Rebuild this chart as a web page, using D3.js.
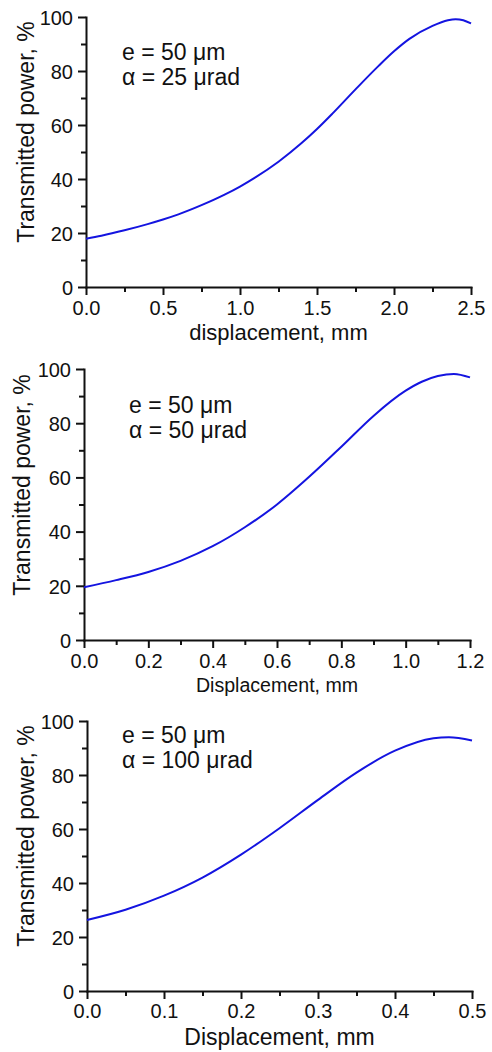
<!DOCTYPE html>
<html>
<head>
<meta charset="utf-8">
<script src="https://cdn.jsdelivr.net/npm/d3@7"></script>
<style>
  html, body { margin: 0; padding: 0; background: #ffffff; }
  svg { display: block; }
  text { font-family: "Liberation Sans", Arial, sans-serif; fill: #111; }
</style>
</head>
<body>
<svg id="chart" width="492" height="1052"></svg>
<script>
// ---------- data ----------
const xValues1 = [0, 0.1, 0.25, 0.4, 0.5, 0.6, 0.75, 0.9, 1.0, 1.1, 1.25, 1.4, 1.5, 1.6, 1.75, 1.9, 2.0, 2.1, 2.25, 2.35, 2.4, 2.45, 2.5];
const yValues1 = [17.9, 19.0, 21.0, 23.3, 25.0, 26.9, 30.3, 34.2, 37.2, 40.6, 46.4, 53.3, 58.5, 64.2, 73.2, 81.9, 87.3, 91.9, 96.7, 98.8, 99.2, 98.8, 97.6];

const xValues2 = [0, 0.1, 0.2, 0.3, 0.4, 0.5, 0.6, 0.7, 0.8, 0.9, 1.0, 1.05, 1.1, 1.15, 1.2];
const yValues2 = [19.5, 22.1, 25.1, 29.2, 34.6, 41.6, 50.0, 60.2, 71.3, 82.7, 92.0, 95.3, 97.4, 98.2, 96.9];

const xValues3 = [0, 0.05, 0.1, 0.15, 0.2, 0.25, 0.3, 0.35, 0.4, 0.45, 0.47, 0.5];
const yValues3 = [26.3, 30.1, 35.3, 42.0, 50.5, 60.3, 70.8, 80.9, 89.0, 93.6, 94.0, 92.8];

const yTicks = [0, 20, 40, 60, 80, 100];
const yMinorTicks = [10, 30, 50, 70, 90];
const xTicks1 = [0, 0.5, 1.0, 1.5, 2.0, 2.5];
const xMinor1 = [0.25, 0.75, 1.25, 1.75, 2.25];
const xTicks2 = [0, 0.2, 0.4, 0.6, 0.8, 1.0, 1.2];
const xMinor2 = [0.1, 0.3, 0.5, 0.7, 0.9, 1.1];
const xTicks3 = [0, 0.1, 0.2, 0.3, 0.4, 0.5];
const xMinor3 = [0.05, 0.15, 0.25, 0.35, 0.45];

const yTitle = "Transmitted power, %";
const xTitles = ["displacement, mm", "Displacement, mm", "Displacement, mm"];
const noteLine1 = ["e = 50 \u03bcm", "e = 50 \u03bcm", "e = 50 \u03bcm"];
const noteLine2 = ["\u03b1 = 25 \u03bcrad", "\u03b1 = 50 \u03bcrad", "\u03b1 = 100 \u03bcrad"];
const xMax = [2.5, 1.2, 0.5];

// ---------- layout ----------
const layout = [
  { left: 86, right: 471, top: 17, bottom: 287, xTitleY: 340, xTitleSize: 22, yTitleX: 34, yTitleCY: 132, noteX: 122, noteY1: 60, noteY2: 85, tickLabelDy: 28 },
  { left: 84, right: 470, top: 369, bottom: 640, xTitleY: 692, xTitleSize: 19.6, yTitleX: 30, yTitleCY: 485, noteX: 129, noteY1: 413, noteY2: 438, tickLabelDy: 28 },
  { left: 87, right: 472, top: 721, bottom: 991, xTitleY: 1045, xTitleSize: 23, yTitleX: 34, yTitleCY: 836, noteX: 122, noteY1: 743, noteY2: 768, tickLabelDy: 27 }
];

const series = [
  { xs: xValues1, ys: yValues1, xt: xTicks1, xm: xMinor1 },
  { xs: xValues2, ys: yValues2, xt: xTicks2, xm: xMinor2 },
  { xs: xValues3, ys: yValues3, xt: xTicks3, xm: xMinor3 }
];

const svg = d3.select("#chart");
svg.append("rect").attr("width", 492).attr("height", 1052).attr("fill", "#ffffff");

series.forEach((s, i) => {
  const L = layout[i];
  const x = d3.scaleLinear().domain([0, xMax[i]]).range([L.left, L.right]);
  const y = d3.scaleLinear().domain([0, 100]).range([L.bottom, L.top]);
  const g = svg.append("g");

  // minor ticks
  g.append("g").attr("transform", `translate(0,${L.bottom})`)
    .call(d3.axisBottom(x).tickValues(s.xm).tickSize(5).tickSizeOuter(0).tickFormat(""))
    .call(a => a.select(".domain").remove())
    .call(a => a.selectAll("line").attr("stroke", "#111").attr("stroke-width", 2));
  g.append("g").attr("transform", `translate(${L.left},0)`)
    .call(d3.axisLeft(y).tickValues(yMinorTicks).tickSize(5).tickSizeOuter(0).tickFormat(""))
    .call(a => a.select(".domain").remove())
    .call(a => a.selectAll("line").attr("stroke", "#111").attr("stroke-width", 2));

  // major x axis
  const xa = g.append("g").attr("transform", `translate(0,${L.bottom})`)
    .call(d3.axisBottom(x).tickValues(s.xt).tickSize(8).tickSizeOuter(0).tickFormat(d3.format(".1f")));
  xa.select(".domain").attr("stroke", "#111").attr("stroke-width", 2).attr("stroke-linecap", "square");
  xa.selectAll("line").attr("stroke", "#111").attr("stroke-width", 2);
  xa.selectAll("text").attr("y", L.tickLabelDy).attr("dy", 0)
    .style("font-size", "20px").style("font-family", '"Liberation Sans", Arial, sans-serif').attr("fill", "#111");

  // major y axis
  const ya = g.append("g").attr("transform", `translate(${L.left},0)`)
    .call(d3.axisLeft(y).tickValues(yTicks).tickSize(8).tickSizeOuter(0).tickPadding(5).tickFormat(d3.format("d")));
  ya.select(".domain").attr("stroke", "#111").attr("stroke-width", 2).attr("stroke-linecap", "square");
  ya.selectAll("line").attr("stroke", "#111").attr("stroke-width", 2);
  ya.selectAll("text").attr("dy", "0.36em")
    .style("font-size", "20px").style("font-family", '"Liberation Sans", Arial, sans-serif').attr("fill", "#111");

  // curve
  const pts = s.xs.map((v, k) => [v, s.ys[k]]);
  g.append("path").datum(pts)
    .attr("fill", "none").attr("stroke", "#1414e0").attr("stroke-width", 2)
    .attr("d", d3.line().x(d => x(d[0])).y(d => y(d[1])).curve(d3.curveMonotoneX));

  // titles
  g.append("text").attr("x", (L.left + L.right) / 2).attr("y", L.xTitleY)
    .attr("text-anchor", "middle").style("font-size", L.xTitleSize + "px").text(xTitles[i]);
  g.append("text").attr("transform", `translate(${L.yTitleX},${L.yTitleCY}) rotate(-90)`)
    .attr("text-anchor", "middle").style("font-size", "23px").text(yTitle);

  // annotations
  g.append("text").attr("x", L.noteX).attr("y", L.noteY1).style("font-size", "23px").text(noteLine1[i]);
  g.append("text").attr("x", L.noteX).attr("y", L.noteY2).style("font-size", "23px").text(noteLine2[i]);
});
</script>
</body>
</html>
